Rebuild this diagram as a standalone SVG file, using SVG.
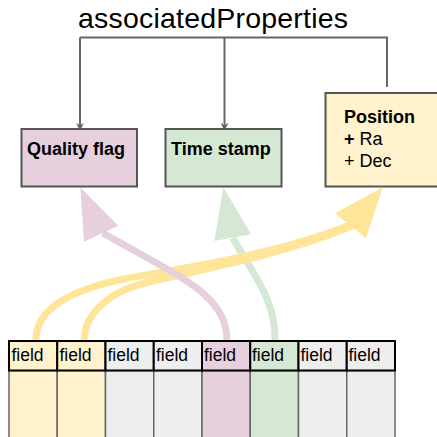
<svg xmlns="http://www.w3.org/2000/svg" width="437" height="437" viewBox="0 0 437 437">
<style>
  .box{stroke:#555;stroke-width:2}
  .lbl{font-family:"Liberation Sans",Arial,sans-serif;font-size:18px;fill:#000}
  .b{font-weight:bold}
  .conn{fill:none;stroke:#666;stroke-width:2}
  .fld{font-family:"Liberation Sans",Arial,sans-serif;font-size:17.5px;fill:#000}
  .hdr{stroke:#000;stroke-width:2}
  .body{stroke:#666;stroke-width:1.5}
  .y{fill:#fff2cc}.g{fill:#eeeeee}.p{fill:#e6d0de}.gr{fill:#d5e8d4}
</style>
<defs>
  <marker id="ah" viewBox="0 0 10 10" refX="9" refY="5" markerWidth="4" markerHeight="4" orient="auto" markerUnits="strokeWidth">
    <path d="M0,0 L10,5 L0,10 L3,5 Z" fill="#666"/>
  </marker>
</defs>
<rect width="437" height="437" fill="#fff"/>

<text class="lbl" x="78" y="27.5" style="font-size:28.5px" textLength="270">associatedProperties</text>

<g id="connectors">
  <path class="conn" d="M80,37.5 H387 V87"/>
  <path class="conn" d="M80,37.5 V130" marker-end="url(#ah)"/>
  <path class="conn" d="M224.5,37.5 V130" marker-end="url(#ah)"/>
  <!-- green flex arrow -->
  <g id="arrow-green">
    <path d="M275,342 C277,300 250,270 233,238" fill="none" stroke="#d5e8d4" stroke-width="7"/>
    <polygon points="223.3,187.3 214.3,241 251,234.3" fill="#d5e8d4"/>
  </g>
  <!-- yellow flex arrows -->
  <g id="arrow-yellow">
    <path d="M36,342 C34,305 80,286 140,276 C200,266 290,250 352,224" fill="none" stroke="#ffe599" stroke-width="7"/>
    <path d="M84,342 C84,310 115,290 145,283 C210,268 290,252 352,226" fill="none" stroke="#ffe599" stroke-width="7"/>
    <polygon points="382.7,187.3 335,213.3 366,238.3" fill="#ffe599"/>
  </g>
  <!-- pink flex arrow -->
  <g id="arrow-pink">
    <path d="M227,342 C227,295 185,280 103,233" fill="none" stroke="#e6d0de" stroke-width="7"/>
    <polygon points="80.3,187.3 84,241.7 118.3,225.7" fill="#e6d0de"/>
  </g>
</g>

<g id="quality-flag">
  <rect class="box p" x="21.5" y="129" width="115.5" height="57.5"/>
  <text class="lbl b" x="27" y="155">Quality flag</text>
</g>
<g id="time-stamp">
  <rect class="box gr" x="165.5" y="129" width="116" height="57.5"/>
  <text class="lbl b" x="171" y="155">Time stamp</text>
</g>
<g id="position">
  <rect class="box y" x="325.5" y="93" width="125" height="93.5"/>
  <text class="lbl b" x="344" y="122.5">Position</text>
  <text class="lbl" x="344" y="145"><tspan class="b">+</tspan> Ra</text>
  <text class="lbl" x="344" y="166.5">+ Dec</text>
</g>

<g id="table">
  <!-- body -->
  <rect class="body y" x="9" y="370.5" width="48.25" height="70"/>
  <rect class="body y" x="57.25" y="370.5" width="48.25" height="70"/>
  <rect class="body g" x="105.5" y="370.5" width="48.25" height="70"/>
  <rect class="body g" x="153.75" y="370.5" width="48.25" height="70"/>
  <rect class="body p" x="202" y="370.5" width="48.25" height="70"/>
  <rect class="body gr" x="250.25" y="370.5" width="48.25" height="70"/>
  <rect class="body g" x="298.5" y="370.5" width="48.25" height="70"/>
  <rect class="body g" x="346.75" y="370.5" width="48.25" height="70"/>
  <!-- header -->
  <g id="h1"><rect class="hdr y" x="9" y="341" width="48.25" height="29.5"/><text class="fld" x="11.5" y="361">field</text></g>
  <g id="h2"><rect class="hdr y" x="57.25" y="341" width="48.25" height="29.5"/><text class="fld" x="59.5" y="361">field</text></g>
  <g id="h3"><rect class="hdr g" x="105.5" y="341" width="48.25" height="29.5"/><text class="fld" x="107.5" y="361">field</text></g>
  <g id="h4"><rect class="hdr g" x="153.75" y="341" width="48.25" height="29.5"/><text class="fld" x="156" y="361">field</text></g>
  <g id="h5"><rect class="hdr p" x="202" y="341" width="48.25" height="29.5"/><text class="fld" x="204" y="361">field</text></g>
  <g id="h6"><rect class="hdr gr" x="250.25" y="341" width="48.25" height="29.5"/><text class="fld" x="252" y="361">field</text></g>
  <g id="h7"><rect class="hdr g" x="298.5" y="341" width="48.25" height="29.5"/><text class="fld" x="300.5" y="361">field</text></g>
  <g id="h8"><rect class="hdr g" x="346.75" y="341" width="48.25" height="29.5"/><text class="fld" x="348.5" y="361">field</text></g>
</g>
</svg>
